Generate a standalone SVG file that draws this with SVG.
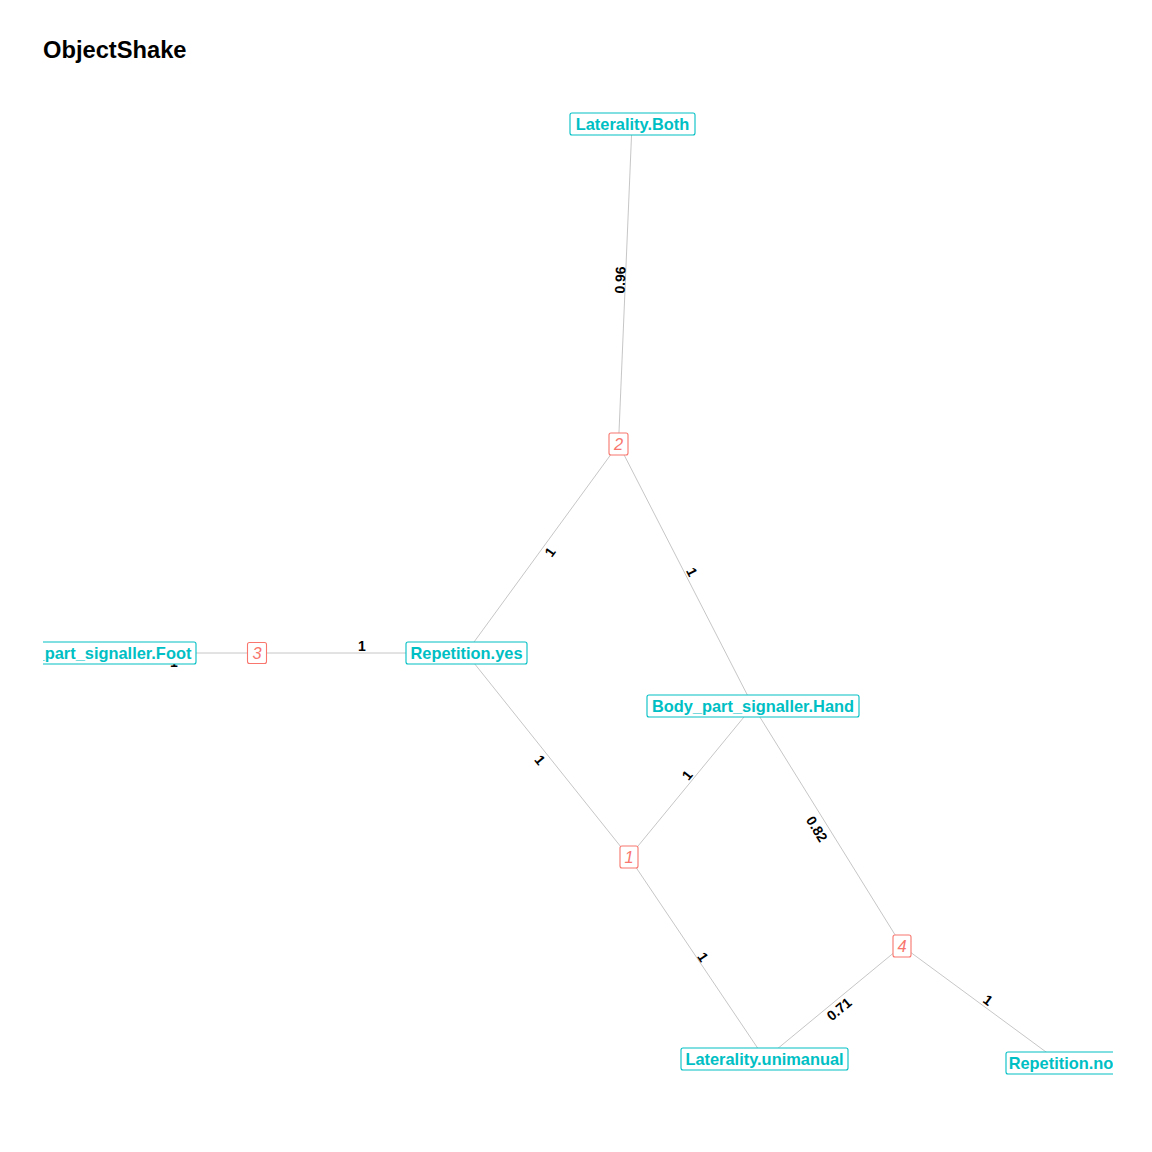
<svg xmlns="http://www.w3.org/2000/svg" width="1152" height="1152" viewBox="0 0 1152 1152">
<defs>
<clipPath id="plot"><rect x="43" y="80" width="1070" height="1050"/></clipPath>
<style>
.edge{stroke:#b8b8b8;stroke-width:0.8;fill:none}
.elab{font-family:"Liberation Sans",Arial,sans-serif;font-weight:bold;font-size:14px;fill:#000;text-anchor:middle;dominant-baseline:central}
.vbox{fill:#fff;stroke:#00BFC4;stroke-width:1.1}
.vtxt{font-family:"Liberation Sans",Arial,sans-serif;font-weight:bold;font-size:16.4px;fill:#00BFC4;text-anchor:middle}
.cbox{fill:#fff;stroke:#F8766D;stroke-width:1.1}
.ctxt{font-family:"Liberation Sans",Arial,sans-serif;font-style:italic;font-size:16.4px;fill:#F8766D;text-anchor:middle}
.title{font-family:"Liberation Sans",Arial,sans-serif;font-weight:bold;font-size:23.7px;fill:#000}
</style>
</defs>
<rect width="1152" height="1152" fill="#fff"/>
<text class="title" x="43" y="58">ObjectShake</text>
<g clip-path="url(#plot)">
<g id="connectors">
<line class="edge" x1="632" y1="124" x2="618.5" y2="444"/>
<line class="edge" x1="618.5" y1="444" x2="466" y2="653"/>
<line class="edge" x1="618.5" y1="444" x2="753" y2="706"/>
<line class="edge" x1="93" y1="653" x2="257" y2="653"/>
<line class="edge" x1="257" y1="653" x2="466" y2="653"/>
<line class="edge" x1="466" y1="653" x2="629" y2="857"/>
<line class="edge" x1="753" y1="706" x2="629" y2="857"/>
<line class="edge" x1="753" y1="706" x2="902" y2="946"/>
<line class="edge" x1="629" y1="857" x2="765" y2="1059"/>
<line class="edge" x1="902" y1="946" x2="765" y2="1059"/>
<line class="edge" x1="902" y1="946" x2="1061" y2="1063"/>
<text class="elab" transform="translate(620,280) rotate(-87.5)">0.96</text>
<text class="elab" transform="translate(550,552) rotate(-54)">1</text>
<text class="elab" transform="translate(692,572) rotate(62.7)">1</text>
<text class="elab" transform="translate(362,646)">1</text>
<text class="elab" transform="translate(174,662)">1</text>
<text class="elab" transform="translate(540,760) rotate(51.4)">1</text>
<text class="elab" transform="translate(687,775) rotate(-50.6)">1</text>
<text class="elab" transform="translate(817,829) rotate(58.2)">0.82</text>
<text class="elab" transform="translate(703,957) rotate(56)">1</text>
<text class="elab" transform="translate(839,1009) rotate(-39.5)">0.71</text>
<text class="elab" transform="translate(988,1000) rotate(36.3)">1</text>
</g>
<g id="node-laterality-both"><rect class="vbox" x="570" y="113" width="125" height="22" rx="2"/><text class="vtxt" x="632.5" y="130">Laterality.Both</text></g>
<g id="node-2"><rect class="cbox" x="609" y="433" width="19" height="22" rx="2"/><text class="ctxt" x="618.5" y="450">2</text></g>
<g id="node-foot"><rect class="vbox" x="-10" y="642" width="206" height="22" rx="2"/><text class="vtxt" x="93" y="659">Body_part_signaller.Foot</text></g>
<g id="node-3"><rect class="cbox" x="247.5" y="642.5" width="19" height="21" rx="2"/><text class="ctxt" x="257" y="659">3</text></g>
<g id="node-repetition-yes"><rect class="vbox" x="406" y="642" width="121" height="22" rx="2"/><text class="vtxt" x="466.5" y="659">Repetition.yes</text></g>
<g id="node-hand"><rect class="vbox" x="647" y="695" width="212" height="22" rx="2"/><text class="vtxt" x="753" y="712">Body_part_signaller.Hand</text></g>
<g id="node-1"><rect class="cbox" x="620" y="846" width="18" height="22" rx="2"/><text class="ctxt" x="629" y="863">1</text></g>
<g id="node-4"><rect class="cbox" x="893" y="935" width="18" height="22" rx="2"/><text class="ctxt" x="902" y="952">4</text></g>
<g id="node-laterality-unimanual"><rect class="vbox" x="681" y="1048" width="167" height="22" rx="2"/><text class="vtxt" x="764.5" y="1065">Laterality.unimanual</text></g>
<g id="node-repetition-no"><rect class="vbox" x="1006" y="1052" width="110" height="22" rx="2"/><text class="vtxt" x="1061" y="1069">Repetition.no</text></g>
</g>
</svg>
